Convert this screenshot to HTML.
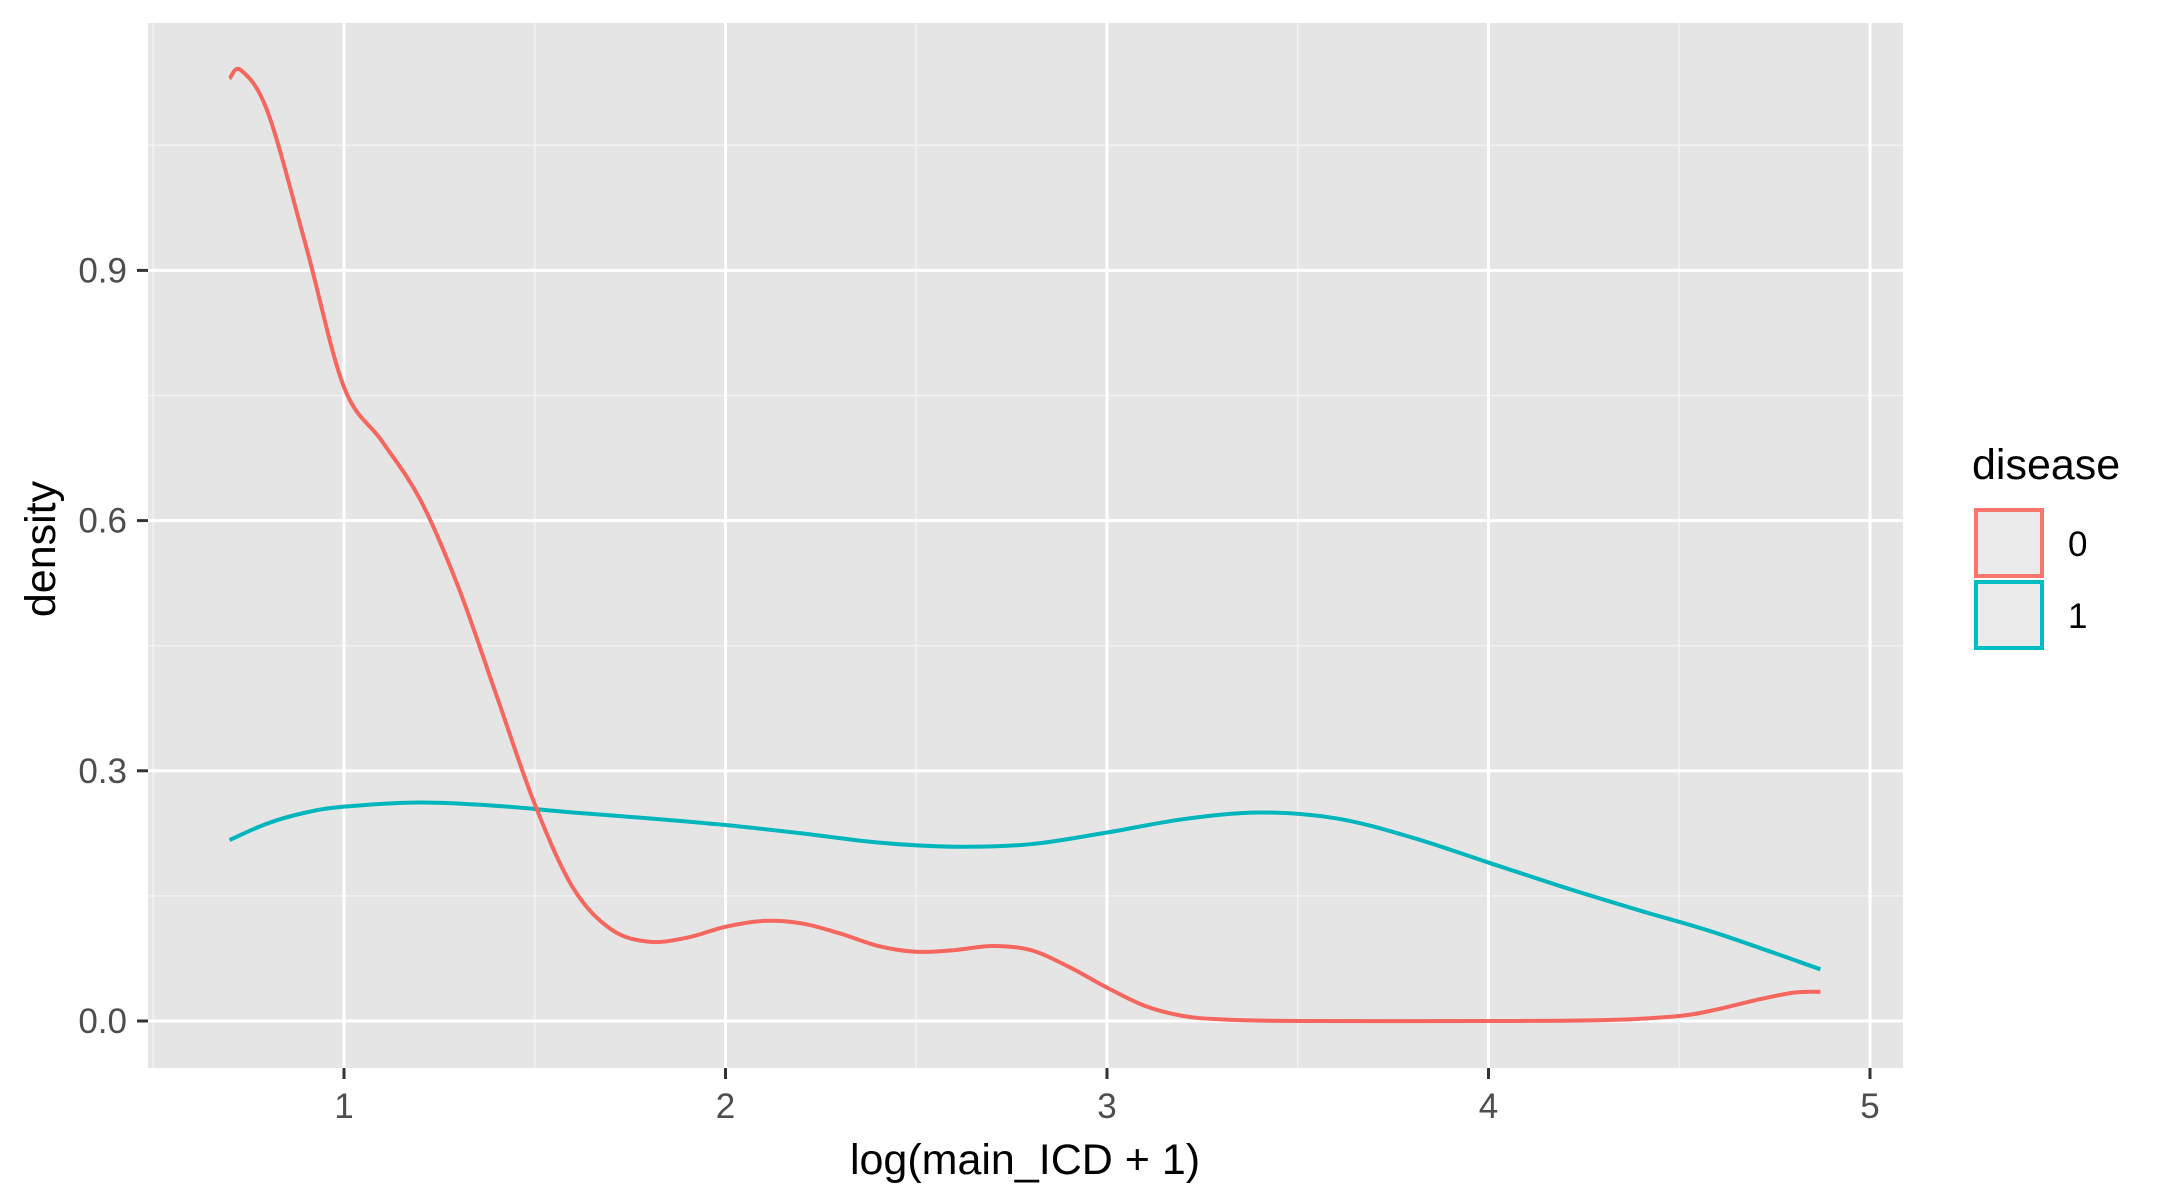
<!DOCTYPE html>
<html><head><meta charset="utf-8"><style>
html,body{margin:0;padding:0;background:#fff;}
svg{display:block;font-family:"Liberation Sans",Arial,sans-serif;}
</style></head><body>
<svg id="chart" width="2175" height="1200" viewBox="0 0 2175 1200" xmlns="http://www.w3.org/2000/svg">
<rect x="148" y="23" width="1755" height="1045" fill="#e5e5e5"/>
<g id="grid"></g>
<g id="axes"></g>
<g id="series"></g>
<text x="1025" y="1174" font-size="43" text-anchor="middle" fill="#000">log(main_ICD + 1)</text>
<text transform="translate(55,549) rotate(-90)" font-size="43" text-anchor="middle" fill="#000">density</text>
<g>
<text x="1972" y="479" font-size="43" fill="#000">disease</text>
<rect x="1976" y="510" width="66" height="66" fill="#ebebeb" stroke="#F8766D" stroke-width="4"/>
<text x="2068" y="556" font-size="35" fill="#000">0</text>
<rect x="1976" y="582" width="66" height="66" fill="#ebebeb" stroke="#00BFC4" stroke-width="4"/>
<text x="2068" y="628" font-size="35" fill="#000">1</text>
</g>
</svg>
<script>
const xTicks = [1, 2, 3, 4, 5];
const yTicks = [0.0, 0.3, 0.6, 0.9];
const yTickLabels = ["0.0", "0.3", "0.6", "0.9"];
const xMinor = [0.5, 1.5, 2.5, 3.5, 4.5];
const yMinor = [0.15, 0.45, 0.75, 1.05];
const redX = [0.7,0.73,0.8,0.9,1.0,1.1,1.2,1.3,1.4,1.5,1.6,1.7,1.8,1.9,2.0,2.1,2.2,2.3,2.4,2.5,2.6,2.7,2.8,2.9,3.0,3.1,3.2,3.3,3.5,4.0,4.3,4.5,4.6,4.7,4.8,4.87];
const redY = [1.13,1.14,1.09,0.93,0.76,0.695,0.625,0.52,0.39,0.26,0.16,0.11,0.095,0.10,0.113,0.12,0.117,0.105,0.09,0.083,0.085,0.09,0.085,0.065,0.04,0.018,0.006,0.002,0.0,0.0,0.001,0.006,0.014,0.025,0.034,0.035];
const cyanX = [0.7,0.8,0.9,1.0,1.2,1.4,1.6,1.8,2.0,2.2,2.4,2.6,2.8,3.0,3.2,3.4,3.6,3.8,4.0,4.2,4.4,4.6,4.87];
const cyanY = [0.217,0.237,0.25,0.257,0.262,0.258,0.25,0.243,0.235,0.225,0.214,0.209,0.212,0.226,0.242,0.25,0.243,0.22,0.19,0.16,0.132,0.105,0.062];

const NS = "http://www.w3.org/2000/svg";
const X0 = 148, X1 = 1903, Y0 = 23, Y1 = 1068;
function xs(v){ return 344 + (v - 1) * 381.5; }
function ys(v){ return 1021 - v * 834; }
function mk(tag, attrs, parent){
  const el = document.createElementNS(NS, tag);
  for (const k in attrs) el.setAttribute(k, attrs[k]);
  parent.appendChild(el);
  return el;
}
const grid = document.getElementById('grid');
const axes = document.getElementById('axes');
const series = document.getElementById('series');

xMinor.forEach(v => {
  const l = mk('line', {x1: xs(v), x2: xs(v), y1: Y0, y2: Y1, stroke: '#f2f2f2', 'stroke-width': 1.5}, grid);
  
  
});
yMinor.forEach(v => {
  const l = mk('line', {x1: X0, x2: X1, y1: ys(v), y2: ys(v), stroke: '#f2f2f2', 'stroke-width': 1.5}, grid);
  
  
});
xTicks.forEach(v => {
  const l = mk('line', {x1: xs(v), x2: xs(v), y1: Y0, y2: Y1, stroke: '#fff', 'stroke-width': 3}, grid);
  
  
  const t = mk('line', {x1: xs(v), x2: xs(v), y1: Y1, y2: Y1 + 11, stroke: '#333', 'stroke-width': 3}, axes);
  
  
  const tx = mk('text', {x: xs(v), y: 1118, 'font-size': 35, 'text-anchor': 'middle', fill: '#4d4d4d'}, axes);
  tx.textContent = String(v);
  
  
});
yTicks.forEach((v, i) => {
  const l = mk('line', {x1: X0, x2: X1, y1: ys(v), y2: ys(v), stroke: '#fff', 'stroke-width': 3}, grid);
  
  
  const t = mk('line', {x1: X0 - 11, x2: X0, y1: ys(v), y2: ys(v), stroke: '#333', 'stroke-width': 3}, axes);
  
  
  const tx = mk('text', {x: 127, y: ys(v) + 12, 'font-size': 35, 'text-anchor': 'end', fill: '#4d4d4d'}, axes);
  tx.textContent = yTickLabels[i];
  
  
});

function smoothPath(xv, yv){
  const p = xv.map((x, i) => [xs(x), ys(yv[i])]);
  let d = 'M' + p[0][0] + ',' + p[0][1];
  for (let i = 0; i < p.length - 1; i++){
    const p0 = p[Math.max(0, i - 1)], p1 = p[i], p2 = p[i + 1], p3 = p[Math.min(p.length - 1, i + 2)];
    const c1x = p1[0] + (p2[0] - p0[0]) / 6, c1y = p1[1] + (p2[1] - p0[1]) / 6;
    const c2x = p2[0] - (p3[0] - p1[0]) / 6, c2y = p2[1] - (p3[1] - p1[1]) / 6;
    d += ' C' + c1x + ',' + c1y + ' ' + c2x + ',' + c2y + ' ' + p2[0] + ',' + p2[1];
  }
  return d;
}
const cyan = mk('path', {d: smoothPath(cyanX, cyanY), fill: 'none', stroke: '#00B5BB', 'stroke-width': 4, 'stroke-linejoin': 'round'}, series);


const red = mk('path', {d: smoothPath(redX, redY), fill: 'none', stroke: '#F5665F', 'stroke-width': 4, 'stroke-linejoin': 'round'}, series);


</script>
</body></html>
